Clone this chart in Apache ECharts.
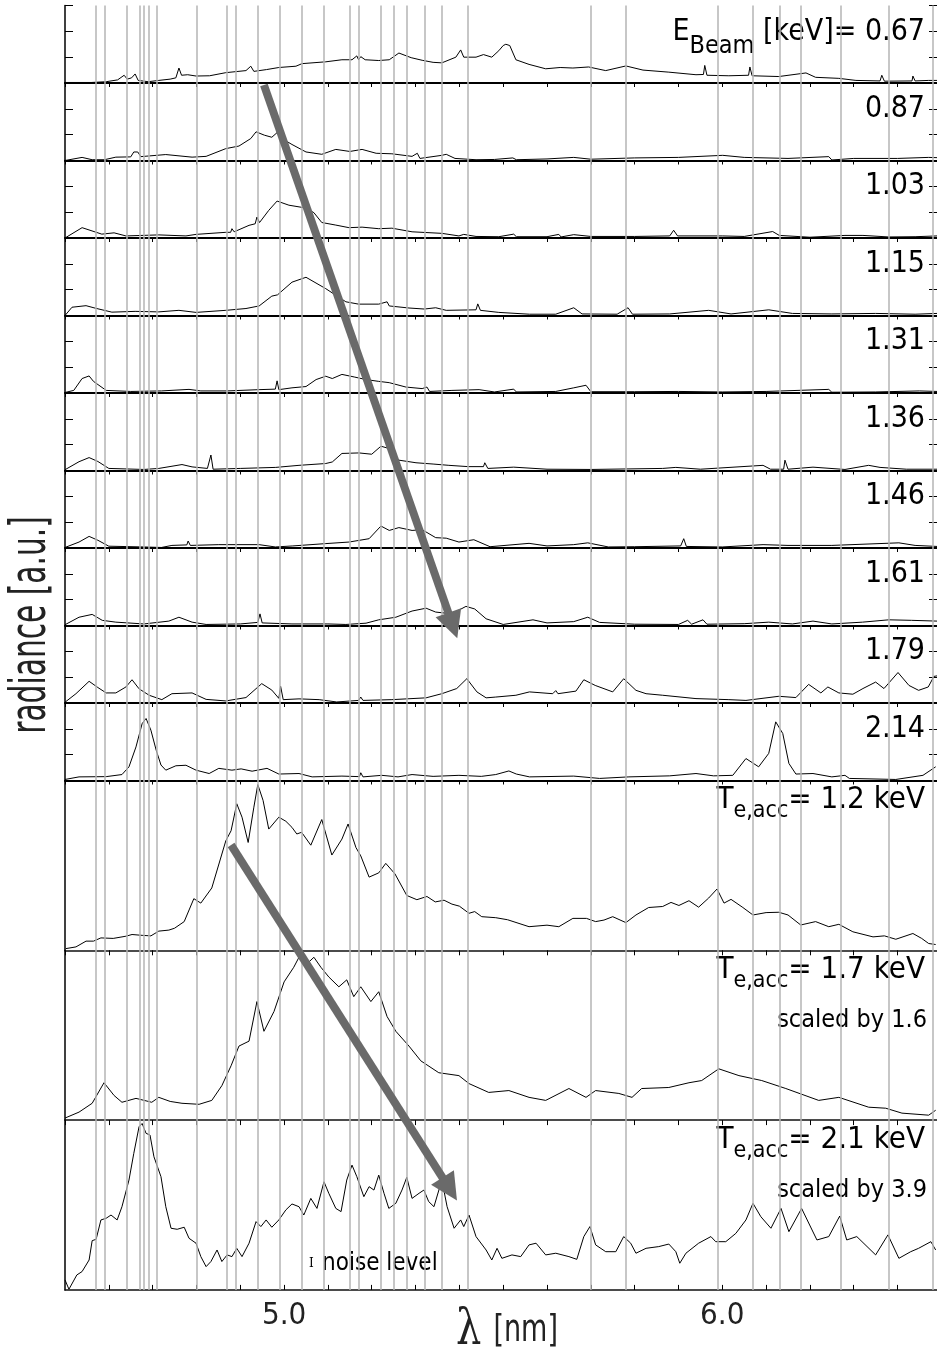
<!DOCTYPE html>
<html>
<head>
<meta charset="utf-8">
<script src="https://cdn.jsdelivr.net/npm/echarts@6.0.0/dist/echarts.min.js"></script>
<style>
html, body { margin: 0; padding: 0; background: #fff; }
#main { width: 937px; height: 1356px; }
</style>
</head>
<body>
<div id="main"></div>
<script>
// ---- data (wavelength in nm, radiance in a.u.) ----
const beamEnergies = ['0.67', '0.87', '1.03', '1.15', '1.31', '1.36', '1.46', '1.61', '1.79', '2.14']

const spec067 = [[4.500,0.02],[4.560,0.02],[4.594,0.05],[4.620,0.12],[4.635,0.3],[4.642,0.15],[4.652,0.2],[4.660,0.35],[4.667,0.1],[4.690,0.05],[4.714,0.1],[4.740,0.15],[4.753,0.2],[4.760,0.58],[4.766,0.3],[4.780,0.32],[4.799,0.27],[4.830,0.28],[4.867,0.4],[4.913,0.48],[4.924,0.65],[4.931,0.45],[4.960,0.52],[4.988,0.6],[5.027,0.65],[5.041,0.75],[5.095,0.82],[5.132,0.9],[5.155,0.9],[5.166,1.05],[5.170,0.9],[5.175,1.02],[5.185,0.9],[5.216,0.87],[5.240,0.9],[5.262,1.16],[5.290,0.98],[5.315,0.88],[5.340,0.8],[5.360,0.78],[5.392,1.0],[5.403,1.28],[5.410,1.0],[5.438,1.0],[5.455,1.1],[5.474,1.0],[5.490,1.25],[5.500,1.45],[5.506,1.5],[5.515,1.45],[5.529,0.9],[5.559,0.72],[5.597,0.55],[5.630,0.6],[5.659,0.58],[5.695,0.62],[5.734,0.48],[5.780,0.66],[5.819,0.5],[5.878,0.42],[5.940,0.32],[5.957,0.33],[5.960,0.68],[5.965,0.3],[6.015,0.28],[6.060,0.3],[6.063,0.62],[6.068,0.28],[6.129,0.25],[6.191,0.39],[6.213,0.22],[6.266,0.18],[6.305,0.1],[6.360,0.08],[6.364,0.3],[6.370,0.07],[6.433,0.08],[6.435,0.27],[6.440,0.08],[6.471,0.1],[6.490,0.1]]

const spec087 = [[4.500,0.0],[4.539,0.12],[4.562,0.03],[4.590,0.03],[4.616,0.13],[4.650,0.14],[4.657,0.33],[4.666,0.33],[4.673,0.15],[4.730,0.23],[4.790,0.13],[4.822,0.16],[4.867,0.46],[4.897,0.56],[4.924,0.85],[4.936,1.11],[4.955,0.98],[4.972,0.9],[4.984,1.08],[4.995,0.85],[5.018,0.62],[5.050,0.33],[5.086,0.24],[5.118,0.43],[5.150,0.35],[5.178,0.43],[5.210,0.28],[5.246,0.26],[5.292,0.16],[5.304,0.28],[5.310,0.08],[5.360,0.2],[5.370,0.24],[5.390,0.08],[5.438,0.03],[5.480,0.04],[5.522,0.1],[5.530,0.03],[5.600,0.06],[5.661,0.12],[5.700,0.05],[5.800,0.1],[5.900,0.12],[6.001,0.2],[6.050,0.12],[6.150,0.08],[6.243,0.15],[6.250,0.02],[6.300,0.08],[6.400,0.08],[6.471,0.12],[6.490,0.11]]

const spec103 = [[4.500,0.0],[4.539,0.4],[4.584,0.15],[4.612,0.2],[4.639,0.08],[4.714,0.12],[4.776,0.08],[4.799,0.14],[4.867,0.22],[4.878,0.22],[4.881,0.36],[4.886,0.24],[4.920,0.49],[4.934,0.55],[4.938,0.81],[4.944,0.6],[4.965,1.07],[4.984,1.43],[5.011,1.27],[5.050,1.16],[5.068,0.98],[5.086,0.6],[5.118,0.5],[5.148,0.4],[5.178,0.42],[5.216,0.36],[5.246,0.38],[5.292,0.24],[5.360,0.18],[5.399,0.08],[5.410,0.14],[5.438,0.06],[5.490,0.05],[5.524,0.15],[5.530,0.05],[5.600,0.05],[5.627,0.14],[5.632,0.04],[5.661,0.13],[5.700,0.06],[5.800,0.06],[5.880,0.08],[5.889,0.3],[5.898,0.08],[6.000,0.08],[6.050,0.06],[6.115,0.25],[6.130,0.1],[6.200,0.03],[6.280,0.1],[6.321,0.1],[6.380,0.04],[6.440,0.05],[6.490,0.08]]

const spec115 = [[4.500,0.0],[4.516,0.32],[4.548,0.38],[4.570,0.28],[4.607,0.13],[4.660,0.16],[4.714,0.14],[4.760,0.2],[4.799,0.12],[4.867,0.2],[4.913,0.27],[4.943,0.37],[4.972,0.75],[4.985,0.8],[5.018,1.29],[5.050,1.48],[5.095,1.04],[5.141,0.53],[5.170,0.44],[5.216,0.44],[5.235,0.53],[5.240,0.37],[5.285,0.29],[5.320,0.25],[5.346,0.3],[5.370,0.2],[5.438,0.22],[5.442,0.45],[5.448,0.2],[5.490,0.12],[5.560,0.05],[5.620,0.05],[5.661,0.3],[5.680,0.06],[5.760,0.05],[5.785,0.3],[5.795,0.05],[5.880,0.06],[5.969,0.2],[6.020,0.06],[6.106,0.22],[6.160,0.08],[6.250,0.06],[6.350,0.08],[6.440,0.05],[6.490,0.08]]

const spec131 = [[4.500,0.02],[4.520,0.1],[4.539,0.56],[4.555,0.66],[4.565,0.45],[4.594,0.1],[4.650,0.06],[4.720,0.08],[4.783,0.14],[4.810,0.08],[4.870,0.08],[4.943,0.13],[4.980,0.15],[4.984,0.47],[4.988,0.13],[5.018,0.2],[5.050,0.25],[5.073,0.52],[5.095,0.65],[5.110,0.56],[5.132,0.72],[5.160,0.62],[5.187,0.52],[5.216,0.45],[5.240,0.4],[5.278,0.23],[5.315,0.17],[5.326,0.23],[5.332,0.06],[5.383,0.1],[5.445,0.13],[5.480,0.04],[5.524,0.15],[5.530,0.04],[5.620,0.06],[5.661,0.2],[5.689,0.3],[5.700,0.05],[5.800,0.05],[5.900,0.06],[6.000,0.04],[6.100,0.06],[6.243,0.14],[6.250,0.03],[6.350,0.04],[6.450,0.08],[6.490,0.06]]

const spec136 = [[4.500,0.03],[4.532,0.34],[4.555,0.5],[4.575,0.35],[4.600,0.08],[4.680,0.04],[4.714,0.08],[4.767,0.23],[4.790,0.14],[4.825,0.08],[4.833,0.6],[4.838,0.05],[4.900,0.08],[4.981,0.12],[5.034,0.2],[5.095,0.27],[5.110,0.33],[5.132,0.66],[5.171,0.68],[5.200,0.63],[5.221,0.94],[5.240,0.85],[5.262,0.4],[5.301,0.3],[5.340,0.25],[5.376,0.2],[5.420,0.15],[5.455,0.15],[5.458,0.3],[5.465,0.08],[5.524,0.13],[5.600,0.05],[5.700,0.04],[5.864,0.08],[5.894,0.12],[5.950,0.05],[6.093,0.2],[6.110,0.05],[6.140,0.05],[6.143,0.4],[6.150,0.05],[6.207,0.13],[6.280,0.04],[6.334,0.2],[6.360,0.12],[6.420,0.05],[6.490,0.05]]

const spec146 = [[4.500,0.02],[4.532,0.23],[4.555,0.45],[4.575,0.3],[4.600,0.07],[4.680,0.04],[4.720,0.02],[4.744,0.1],[4.778,0.12],[4.781,0.27],[4.786,0.1],[4.851,0.13],[4.943,0.13],[4.980,0.04],[5.020,0.08],[5.095,0.17],[5.148,0.23],[5.194,0.36],[5.221,0.85],[5.240,0.68],[5.262,0.79],[5.292,0.68],[5.315,0.71],[5.346,0.4],[5.370,0.38],[5.399,0.23],[5.433,0.32],[5.470,0.05],[5.559,0.18],[5.600,0.08],[5.661,0.13],[5.693,0.2],[5.740,0.04],[5.800,0.05],[5.905,0.08],[5.912,0.36],[5.918,0.06],[6.000,0.04],[6.093,0.13],[6.150,0.1],[6.250,0.1],[6.403,0.2],[6.440,0.1],[6.490,0.06]]

const spec161 = [[4.500,0.03],[4.532,0.32],[4.562,0.43],[4.585,0.2],[4.616,0.13],[4.680,0.06],[4.737,0.17],[4.760,0.32],[4.790,0.13],[4.822,0.04],[4.900,0.06],[4.940,0.12],[4.945,0.45],[4.950,0.1],[5.018,0.06],[5.100,0.06],[5.141,0.04],[5.187,0.09],[5.216,0.22],[5.255,0.32],[5.292,0.56],[5.324,0.67],[5.346,0.52],[5.383,0.45],[5.415,0.74],[5.435,0.64],[5.461,0.26],[5.500,0.04],[5.568,0.22],[5.600,0.1],[5.661,0.15],[5.693,0.32],[5.720,0.12],[5.800,0.05],[5.900,0.04],[5.921,0.2],[5.930,0.05],[5.956,0.22],[5.965,0.05],[6.050,0.07],[6.106,0.13],[6.160,0.06],[6.207,0.17],[6.250,0.06],[6.320,0.13],[6.380,0.22],[6.432,0.2],[6.490,0.17]]

const spec179 = [[4.500,0.03],[4.525,0.36],[4.555,0.84],[4.575,0.6],[4.594,0.39],[4.616,0.39],[4.639,0.62],[4.653,0.9],[4.669,0.55],[4.692,0.3],[4.721,0.13],[4.744,0.36],[4.790,0.39],[4.822,0.14],[4.867,0.08],[4.913,0.21],[4.949,0.75],[4.972,0.5],[4.988,0.18],[4.992,0.65],[4.998,0.13],[5.034,0.16],[5.080,0.13],[5.120,0.04],[5.170,0.1],[5.175,0.23],[5.180,0.1],[5.246,0.13],[5.324,0.2],[5.360,0.36],[5.394,0.56],[5.417,0.94],[5.440,0.43],[5.461,0.2],[5.483,0.23],[5.529,0.3],[5.560,0.43],[5.613,0.36],[5.620,0.48],[5.625,0.36],[5.666,0.46],[5.684,0.9],[5.710,0.68],[5.750,0.43],[5.775,0.94],[5.803,0.49],[5.826,0.36],[5.864,0.3],[5.940,0.17],[6.015,0.13],[6.054,0.1],[6.129,0.26],[6.168,0.21],[6.197,0.72],[6.225,0.39],[6.241,0.62],[6.266,0.39],[6.298,0.34],[6.321,0.56],[6.350,0.81],[6.369,0.56],[6.401,1.18],[6.426,0.68],[6.448,0.49],[6.470,0.62],[6.483,1.03],[6.490,1.05]]

const spec214 = [[4.500,0.04],[4.532,0.14],[4.594,0.15],[4.630,0.23],[4.646,0.53],[4.662,1.3],[4.676,2.2],[4.685,2.4],[4.696,1.95],[4.708,1.18],[4.719,0.6],[4.730,0.4],[4.753,0.57],[4.776,0.59],[4.799,0.4],[4.829,0.27],[4.851,0.47],[4.881,0.4],[4.902,0.45],[4.927,0.36],[4.961,0.47],[4.988,0.25],[5.034,0.27],[5.064,0.14],[5.132,0.17],[5.172,0.15],[5.175,0.3],[5.180,0.14],[5.223,0.2],[5.260,0.14],[5.292,0.23],[5.340,0.16],[5.399,0.2],[5.450,0.16],[5.483,0.23],[5.513,0.37],[5.530,0.25],[5.560,0.14],[5.661,0.17],[5.720,0.08],[5.787,0.14],[5.880,0.18],[5.940,0.27],[5.980,0.18],[6.024,0.2],[6.054,0.85],[6.083,0.53],[6.106,1.05],[6.122,2.27],[6.138,1.82],[6.152,0.66],[6.168,0.25],[6.207,0.27],[6.250,0.14],[6.280,0.2],[6.282,0.25],[6.290,0.08],[6.396,0.04],[6.458,0.2],[6.487,0.53]]

const smallSpectra = [spec067, spec087, spec103, spec115, spec131, spec136, spec146, spec161, spec179, spec214]

// accumulated spectra for Te,acc
const tempLabels = ['1.2', '1.7', '2.1']
const scaleLabels = ['', '1.6', '3.9']

const te12 = [[4.502,0.1],[4.525,0.2],[4.548,0.54],[4.565,0.54],[4.582,0.73],[4.610,0.7],[4.639,0.83],[4.653,0.93],[4.676,0.88],[4.696,0.85],[4.714,1.13],[4.737,1.19],[4.750,1.3],[4.772,1.69],[4.794,3.04],[4.810,2.78],[4.835,3.67],[4.867,6.45],[4.879,7.04],[4.892,8.63],[4.904,7.84],[4.918,6.35],[4.931,8.43],[4.940,9.76],[4.952,8.83],[4.965,7.14],[4.988,7.84],[5.004,7.6],[5.018,7.24],[5.029,6.85],[5.040,6.95],[5.061,6.19],[5.086,7.7],[5.109,5.61],[5.132,6.55],[5.146,7.44],[5.164,6.05],[5.175,5.56],[5.194,4.31],[5.216,4.56],[5.232,5.12],[5.253,4.5],[5.280,3.23],[5.303,2.98],[5.326,3.17],[5.345,2.85],[5.365,2.95],[5.383,2.72],[5.400,2.6],[5.422,2.18],[5.435,2.28],[5.451,1.98],[5.483,1.92],[5.510,1.8],[5.559,1.39],[5.600,1.48],[5.627,1.39],[5.659,1.88],[5.690,1.88],[5.711,1.69],[5.730,1.78],[5.750,1.98],[5.780,1.63],[5.803,2.08],[5.832,2.52],[5.864,2.58],[5.883,2.82],[5.901,2.64],[5.924,2.92],[5.946,2.54],[5.969,3.08],[5.988,3.61],[6.004,2.78],[6.020,3.0],[6.047,2.52],[6.070,2.08],[6.100,2.22],[6.129,2.24],[6.150,2.08],[6.179,1.49],[6.213,1.69],[6.243,1.39],[6.266,1.53],[6.298,1.09],[6.344,0.79],[6.370,0.85],[6.396,0.65],[6.435,0.99],[6.455,0.7],[6.471,0.4],[6.487,0.34]]

const te17 = [[4.500,0.12],[4.532,0.47],[4.562,0.99],[4.589,2.2],[4.612,1.45],[4.630,1.05],[4.662,1.28],[4.698,1.05],[4.714,1.34],[4.740,1.1],[4.767,0.99],[4.806,0.93],[4.835,1.16],[4.858,2.03],[4.879,3.2],[4.897,4.36],[4.920,4.65],[4.938,6.98],[4.954,5.23],[4.977,6.4],[5.000,8.14],[5.022,9.0],[5.034,9.59],[5.052,9.2],[5.068,9.59],[5.084,9.0],[5.102,8.43],[5.125,7.85],[5.143,8.26],[5.159,7.27],[5.175,7.85],[5.198,6.98],[5.216,7.56],[5.235,6.1],[5.255,5.23],[5.285,4.36],[5.312,3.49],[5.353,2.79],[5.399,2.62],[5.422,2.15],[5.467,1.63],[5.513,1.74],[5.559,1.34],[5.597,1.16],[5.650,1.86],[5.689,1.34],[5.711,1.74],[5.764,1.57],[5.794,1.34],[5.816,1.86],[5.878,1.92],[5.924,2.2],[5.953,2.33],[5.992,3.02],[6.038,2.62],[6.090,2.33],[6.145,1.86],[6.220,1.16],[6.266,1.34],[6.334,0.76],[6.373,0.7],[6.410,0.41],[6.471,0.29],[6.487,0.58]]

const te21 = [[4.500,0.59],[4.509,0.04],[4.527,0.88],[4.539,1.08],[4.555,1.76],[4.562,2.9],[4.571,2.98],[4.582,4.12],[4.594,4.22],[4.605,4.41],[4.619,4.12],[4.630,4.9],[4.646,6.47],[4.657,8.04],[4.669,9.61],[4.676,9.8],[4.685,9.22],[4.694,9.12],[4.703,7.84],[4.719,6.67],[4.730,4.9],[4.742,3.63],[4.756,3.57],[4.772,3.69],[4.783,3.04],[4.799,2.75],[4.810,1.96],[4.822,1.37],[4.833,1.67],[4.847,2.35],[4.858,1.67],[4.870,2.06],[4.881,1.96],[4.892,2.45],[4.904,1.96],[4.920,2.75],[4.936,4.02],[4.947,3.73],[4.959,4.12],[4.972,3.69],[4.988,4.12],[5.004,4.71],[5.018,5.06],[5.034,4.9],[5.045,4.41],[5.061,5.39],[5.075,4.8],[5.091,6.37],[5.102,5.69],[5.118,4.8],[5.130,4.61],[5.143,6.47],[5.155,7.35],[5.166,6.67],[5.182,5.49],[5.194,6.08],[5.205,5.88],[5.216,6.76],[5.228,5.69],[5.239,4.8],[5.255,5.1],[5.269,5.88],[5.280,6.63],[5.292,5.39],[5.308,5.69],[5.319,5.88],[5.330,5.2],[5.342,4.9],[5.360,6.47],[5.372,4.9],[5.388,3.63],[5.403,4.12],[5.410,3.73],[5.422,4.41],[5.438,3.14],[5.461,2.35],[5.474,1.76],[5.486,2.45],[5.497,1.86],[5.520,2.06],[5.540,1.96],[5.559,2.65],[5.575,2.75],[5.597,2.06],[5.620,2.16],[5.650,1.96],[5.668,1.8],[5.684,3.14],[5.698,3.73],[5.711,2.65],[5.734,2.25],[5.757,2.25],[5.775,3.14],[5.791,2.75],[5.803,2.16],[5.826,2.45],[5.855,2.55],[5.878,2.7],[5.894,2.25],[5.903,1.57],[5.917,2.16],[5.946,2.75],[5.974,3.14],[5.985,2.84],[6.008,2.84],[6.031,3.33],[6.054,4.12],[6.070,5.1],[6.088,4.31],[6.111,3.63],[6.134,4.8],[6.152,3.43],[6.181,4.8],[6.216,2.94],[6.243,3.14],[6.268,4.35],[6.284,2.94],[6.307,3.14],[6.350,2.06],[6.378,3.24],[6.403,1.86],[6.430,2.25],[6.448,2.45],[6.476,2.84],[6.487,2.35]]

const bigSpectra = [te12, te17, te21]

// line positions marked by the grey vertical lines (nm)
const lineMarks = [4.566, 4.589, 4.644, 4.667, 4.676, 4.694, 4.712, 4.797, 4.870, 4.895, 4.943, 4.988, 5.036, 5.089, 5.146, 5.175, 5.221, 5.255, 5.280, 5.319, 5.360, 5.419, 5.698, 5.775, 5.992, 6.072, 6.134, 6.184, 6.266, 6.378, 6.478]

// arrows: [start, end] in (nm, px below plot top)
const arrows = [
  [[4.954, 79.5], [5.385, 620]],
  [[4.879, 839.5], [5.378, 1183.5]]
]

// ---- layout ----
const FONT = "'DejaVu Sans Condensed', 'Liberation Sans', sans-serif"
const X_MIN = 4.5
const X_MAX = 6.49
const PLOT_TOP = 5.5
const SMALL_H = 77.5
const BIG_H = 169.8
const BIG_TOP = PLOT_TOP + SMALL_H * 10
const PLOT_H = SMALL_H * 10 + BIG_H * 3

const myChart = echarts.init(document.getElementById('main'), null, { renderer: 'canvas' })

const grid = []
const xAxis = []
const yAxis = []
const series = []
const graphic = []

function tickLabel(v) {
  if (Math.abs(v - 5) < 1e-6 || Math.abs(v - 6) < 1e-6) return v.toFixed(1)
  return ''
}

// small panels
smallSpectra.forEach((spec, i) => {
  const top = PLOT_TOP + SMALL_H * i
  grid.push({ left: 65, right: 0, top: top, height: SMALL_H })
  const xi = xAxis.length
  xAxis.push({
    type: 'value', gridIndex: i, min: X_MIN, max: X_MAX, interval: 0.1, z: 3,
    axisLine: { show: true, lineStyle: { color: '#000', width: 2 } },
    axisTick: { show: true, inside: false, length: 4, lineStyle: { color: '#000', width: 1 } },
    axisLabel: { show: false },
    splitLine: { show: false }
  })
  if (i === 0) {
    xAxis.push({
      type: 'value', gridIndex: 0, position: 'top', min: X_MIN, max: X_MAX, interval: 0.1, z: 3,
      axisLine: { show: true, lineStyle: { color: '#000', width: 1.5 } },
      axisTick: { show: true, inside: true, length: 4, lineStyle: { color: '#000', width: 1 } },
      axisLabel: { show: false },
      splitLine: { show: false }
    })
  }
  const yi = yAxis.length
  yAxis.push({
    type: 'value', gridIndex: i, min: 0, max: 3, interval: 1, z: 3,
    axisLine: { show: true, lineStyle: { color: '#000', width: 1.5 } },
    axisTick: { show: true, inside: true, length: 8, lineStyle: { color: '#000', width: 1 } },
    axisLabel: { show: false },
    splitLine: { show: false }
  })
  yAxis.push({
    type: 'value', gridIndex: i, position: 'right', min: 0, max: 3, interval: 1, z: 3,
    axisLine: { show: false },
    axisTick: { show: true, inside: true, length: 8, lineStyle: { color: '#000', width: 1 } },
    axisLabel: { show: false },
    splitLine: { show: false }
  })
  series.push({
    type: 'line', xAxisIndex: xi, yAxisIndex: yi, data: spec,
    symbol: 'none', showSymbol: false, silent: true, z: 2,
    lineStyle: { color: '#000', width: 1 }
  })
  if (i === 0) {
    graphic.push({
      type: 'text', right: 12, top: top + 12,
      style: {
        text: '{m|E}{s|Beam}{m| [keV]= ' + beamEnergies[i] + '}',
        rich: {
          m: { fontFamily: FONT, fontSize: 30, fill: '#000' },
          s: { fontFamily: FONT, fontSize: 25, fill: '#000', padding: [28, 0, 0, 0] }
        }
      }
    })
  } else {
    graphic.push({
      type: 'text', right: 12, top: top + 11,
      style: { text: beamEnergies[i], fontFamily: FONT, fontSize: 30, fill: '#000' }
    })
  }
})

// big panels
bigSpectra.forEach((spec, j) => {
  const gi = grid.length
  const top = BIG_TOP + BIG_H * j
  grid.push({ left: 65, right: 0, top: top, height: BIG_H })
  const last = j === bigSpectra.length - 1
  const xi = xAxis.length
  xAxis.push({
    type: 'value', gridIndex: gi, min: X_MIN, max: X_MAX, interval: 0.1, z: 3,
    axisLine: { show: true, lineStyle: { color: '#111', width: 1.5 } },
    axisTick: { show: true, inside: last, length: 5, lineStyle: { color: '#000', width: 1 } },
    axisLabel: {
      show: last, margin: 11, fontFamily: FONT, fontSize: 31, color: '#222',
      formatter: tickLabel, showMinLabel: false, showMaxLabel: false
    },
    splitLine: { show: false }
  })
  const yi = yAxis.length
  yAxis.push({
    type: 'value', gridIndex: gi, min: 0, max: 10, z: 3,
    axisLine: { show: true, lineStyle: { color: '#000', width: 1.5 } },
    axisTick: { show: false },
    axisLabel: { show: false },
    splitLine: { show: false }
  })
  series.push({
    type: 'line', xAxisIndex: xi, yAxisIndex: yi, data: spec,
    symbol: 'none', showSymbol: false, silent: true, z: 2,
    lineStyle: { color: '#000', width: 1 }
  })
  graphic.push({
    type: 'text', right: 12, top: top + 4,
    style: {
      text: '{m|T}{s|e,acc}{m|= ' + tempLabels[j] + ' keV}',
      rich: {
        m: { fontFamily: FONT, fontSize: 31, fill: '#000' },
        s: { fontFamily: FONT, fontSize: 23, fill: '#000', padding: [23, 0, 0, 0] }
      }
    }
  })
  if (scaleLabels[j]) {
    graphic.push({
      type: 'text', right: 10, top: top + 58,
      style: { text: 'scaled by ' + scaleLabels[j], fontFamily: FONT, fontSize: 25, fill: '#000' }
    })
  }
})

// overlay grid: grey line markers and arrows
const og = grid.length
grid.push({ left: 65, right: 0, top: PLOT_TOP, height: PLOT_H })
const oxi = xAxis.length
xAxis.push({
  type: 'value', gridIndex: og, min: X_MIN, max: X_MAX, show: false
})
const oyi = yAxis.length
yAxis.push({
  type: 'value', gridIndex: og, min: 0, max: PLOT_H, inverse: true, show: false
})
series.push({
  type: 'line', xAxisIndex: oxi, yAxisIndex: oyi, data: [], z: 1, silent: true,
  markLine: {
    silent: true, symbol: 'none', animation: false,
    label: { show: false },
    lineStyle: { color: '#b5b5b5', width: 1.5, type: 'solid' },
    data: lineMarks.map(v => ({ xAxis: v }))
  }
})
series.push({
  type: 'lines', coordinateSystem: 'cartesian2d', xAxisIndex: oxi, yAxisIndex: oyi, z: 10,
  symbol: ['none', 'triangle'], symbolSize: 27, silent: true,
  lineStyle: { color: '#6a6a6a', width: 8, opacity: 1, curveness: 0 },
  data: arrows.map(a => ({ coords: a }))
})

// axis titles (narrow, tall lettering as in the original)
graphic.push({
  type: 'text', x: 32, y: 625, rotation: Math.PI / 2, scaleY: 1.5,
  style: {
    text: 'radiance [a.u.]', fontFamily: FONT, fontSize: 33, fill: '#222',
    align: 'center', verticalAlign: 'middle'
  }
})
graphic.push({
  type: 'text', x: 507, y: 1331, scaleY: 1.25,
  style: {
    text: '{l|λ}{u|[nm]}', align: 'center', verticalAlign: 'middle',
    rich: {
      l: { fontFamily: 'DejaVu Serif', fontSize: 40, fill: '#222' },
      u: { fontFamily: FONT, fontSize: 30, fill: '#222', padding: [0, 0, 0, 12] }
    }
  }
})

// noise level marker
graphic.push({
  type: 'text', left: 309, top: 1258,
  style: { text: 'I', fontFamily: 'DejaVu Serif', fontSize: 12, fill: '#000' }
})
graphic.push({
  type: 'text', left: 322, top: 1252,
  style: { text: 'noise level', fontFamily: FONT, fontSize: 24, fill: '#000' }
})

const option = {
  animation: false,
  backgroundColor: '#fff',
  grid: grid,
  xAxis: xAxis,
  yAxis: yAxis,
  series: series,
  graphic: graphic
}

myChart.setOption(option)
window.addEventListener('resize', () => {
  myChart.resize()
})
</script>
</body>
</html>
